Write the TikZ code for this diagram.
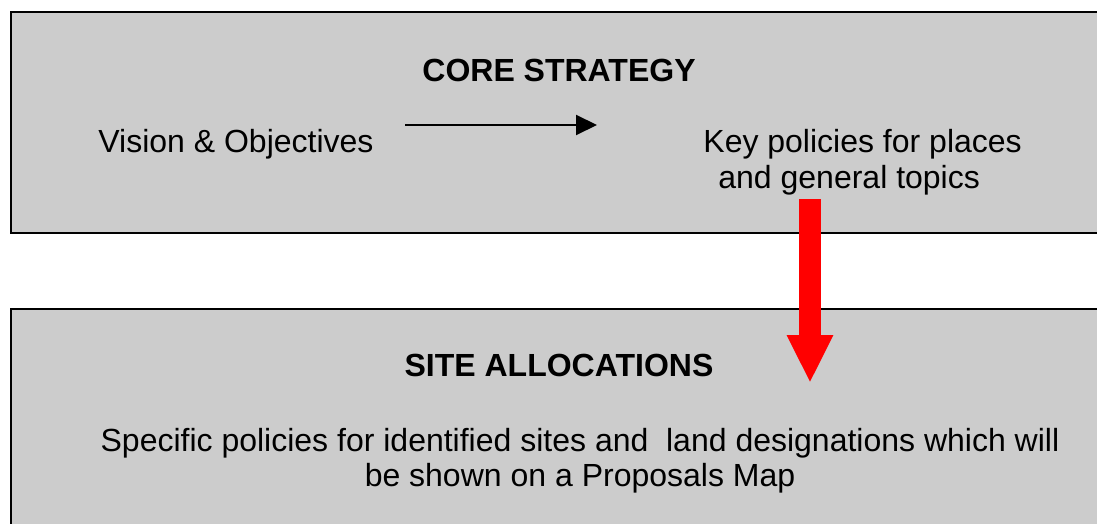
\documentclass[tikz,border=0pt]{standalone}
\usepackage{fontspec}
\setmainfont{Liberation Sans}
\usetikzlibrary{arrows.meta}
\definecolor{boxgray}{HTML}{CCCCCC}

\begin{document}
\begin{tikzpicture}[x=0.5pt,y=-0.5pt,
    panel/.style={draw=black,line width=1pt,fill=boxgray,inner sep=0pt,minimum width=549.5pt},
    txt/.style={inner sep=0pt,font=\fontsize{16}{17.5}\selectfont},
    title/.style={txt,font=\fontsize{16}{17.5}\selectfont\bfseries}]
    \useasboundingbox (0,0) rectangle (1097,524);
    \clip (0,0) rectangle (1097,524);
    \node[panel,minimum height=110.5pt] at (560.5,122.5) (core) {};
    \node[panel,minimum height=115.5pt] at (560.5,424.5) (site) {};

    \node[title,anchor=base] at (559,82) (coretitle) {CORE STRATEGY};
    \node[txt,anchor=base west] at (98,152) (vision) {Vision \& Objectives};
    \node[txt,anchor=base west,align=left] at (703,188) (keyp) {Key policies for places\\\hspace{7.5pt}and general topics};
    \node[title,anchor=base] at (559,376) (sitetitle) {SITE ALLOCATIONS};
    \node[txt,anchor=base,align=center] at (580,486) (specific) {Specific policies for identified sites and\ \ land designations which will\\be shown on a Proposals Map};

    \coordinate (arrstart) at (405,125);
    \coordinate (arrend) at (597,125);
    \coordinate (redtop) at (810,199);
    \coordinate (redtip) at (810,383);
    \draw[line width=1pt,-{Triangle[length=10.5pt,width=10pt]}] (arrstart) -- (arrend);
    \draw[red,line width=11pt,-{Triangle[length=24pt,width=21.5pt]}] (redtop) -- (redtip);
\end{tikzpicture}
\end{document}
